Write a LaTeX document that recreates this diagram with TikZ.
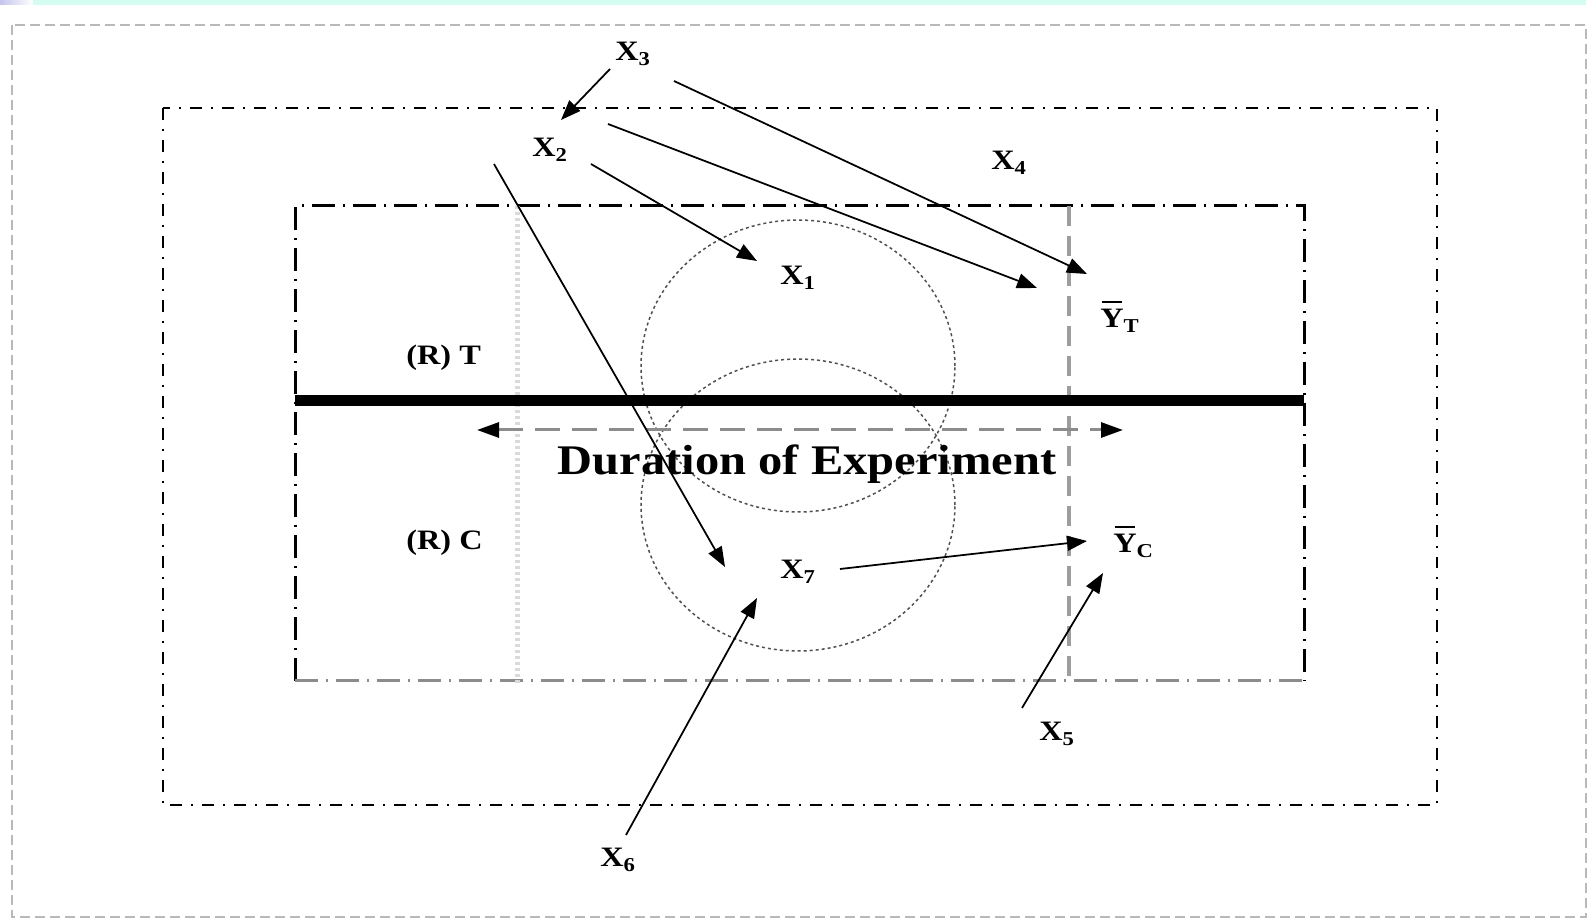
\documentclass[tikz,border=0pt]{standalone}
\usepackage{fontspec}
\setmainfont{Liberation Serif}[FakeStretch=1.15]
\usetikzlibrary{arrows.meta}
\definecolor{bandcyan}{RGB}{212,252,240}
\definecolor{bandlav}{RGB}{196,196,238}
\definecolor{framegray}{RGB}{185,185,185}
\definecolor{midgray}{RGB}{140,140,140}
\definecolor{palegray}{RGB}{218,218,218}
\definecolor{zonegray}{RGB}{80,80,80}
\newcommand{\meanY}{\makebox[0pt][l]{\hspace{0.05em}\raisebox{0.9em}{\rule{0.72em}{0.07em}}}Y}
\tikzset{
  lbl/.style={font=\bfseries\fontsize{16}{18}\selectfont, inner sep=0pt, anchor=base west},
  conn/.style={-{Triangle[length=0.4cm,width=0.3cm]}, line width=0.035cm},
  outerbox/.style={line width=0.045cm, dash pattern=on 0.24cm off 0.18cm on 0.04cm off 0.18cm},
  innerbox/.style={line width=0.06cm, dash pattern=on 0.46cm off 0.16cm on 0.04cm off 0.16cm},
  zone/.style={zonegray, line width=0.03cm, dash pattern=on 0.06cm off 0.06cm},
}
\begin{document}
\begin{tikzpicture}[x=0.02cm, y=-0.02cm]
\useasboundingbox (0,0) rectangle (1590,918);
% Top band and page frame
\shade[left color=bandlav, right color=white] (0,0) rectangle (33,5);
\fill[bandcyan] (33,0) rectangle (1586,5);
\draw[framegray, line width=0.04cm, dash pattern=on 0.2cm off 0.1cm] (12,25) rectangle (1586,917);
% Outer and inner frames
\draw[outerbox] (163,108) rectangle (1437,805);
\draw[innerbox] (295,681) -- (295,206) -- (1304,206) -- (1304,681);
\draw[innerbox, midgray] (295,681) -- (1304,681);
% Time marks
\draw[palegray, line width=0.1cm, dash pattern=on 0.06cm off 0.06cm] (517,206) -- (517,685);
\draw[framegray!85!black, line width=0.07cm, dash pattern=on 0.4cm off 0.2cm] (1069,206) -- (1069,681);
% Overlapping zones
\draw[zone] (798,366) ellipse [x radius=3.14cm, y radius=2.92cm];
\draw[zone] (798,505) ellipse [x radius=3.14cm, y radius=2.92cm];
% Split between groups
\draw[line width=0.22cm] (295,401) -- (1304,401);
% Duration
\coordinate (durL) at (477,430);
\coordinate (durR) at (1123,430);
\draw[midgray, line width=0.06cm, dash pattern=on 0.5cm off 0.24cm,
  {Triangle[length=0.44cm,width=0.3cm,color=black]}-{Triangle[length=0.44cm,width=0.3cm,color=black]}] (durL) -- (durR);
\node[font=\bfseries\fontsize{24}{28}\selectfont, inner sep=0pt, anchor=base] (dur) at (807,475) {Duration of Experiment};
% Labels
\node[lbl] (rt) at (406,365) {(R) T};
\node[lbl] (rc) at (406,550) {(R) C};
\node[lbl] (x3) at (615,61) {X\textsubscript{3}};
\node[lbl] (x2) at (532,157) {X\textsubscript{2}};
\node[lbl] (x4) at (991,170) {X\textsubscript{4}};
\node[lbl] (x1) at (780,285) {X\textsubscript{1}};
\node[lbl] (yt) at (1100,328) {\meanY\textsubscript{T}};
\node[lbl] (x7) at (780,579) {X\textsubscript{7}};
\node[lbl] (yc) at (1113,553) {\meanY\textsubscript{C}};
\node[lbl] (x5) at (1039,741) {X\textsubscript{5}};
\node[lbl] (x6) at (600,867) {X\textsubscript{6}};
% Influences
\draw[conn] ([shift={(-5,8)}]x3.base west) -- ([shift={(29,-37)}]x2.base west);
\draw[conn] ([shift={(59,20)}]x3.base west) -- ([shift={(-13,-54)}]yt.base west);
\draw[conn] ([shift={(76,-33)}]x2.base west) -- ([shift={(-63,-40)}]yt.base west);
\draw[conn] ([shift={(59,7)}]x2.base west) -- ([shift={(-23,-24)}]x1.base west);
\draw[conn] ([shift={(-38,7)}]x2.base west) -- ([shift={(-55,-12)}]x7.base west);
\draw[conn] ([shift={(60,-10)}]x7.base west) -- ([shift={(-26,-12)}]yc.base west);
\draw[conn] ([shift={(26,-32)}]x6.base west) -- ([shift={(-23,19)}]x7.base west);
\draw[conn] ([shift={(-17,-33)}]x5.base west) -- ([shift={(-10,20)}]yc.base west);
\end{tikzpicture}
\end{document}
